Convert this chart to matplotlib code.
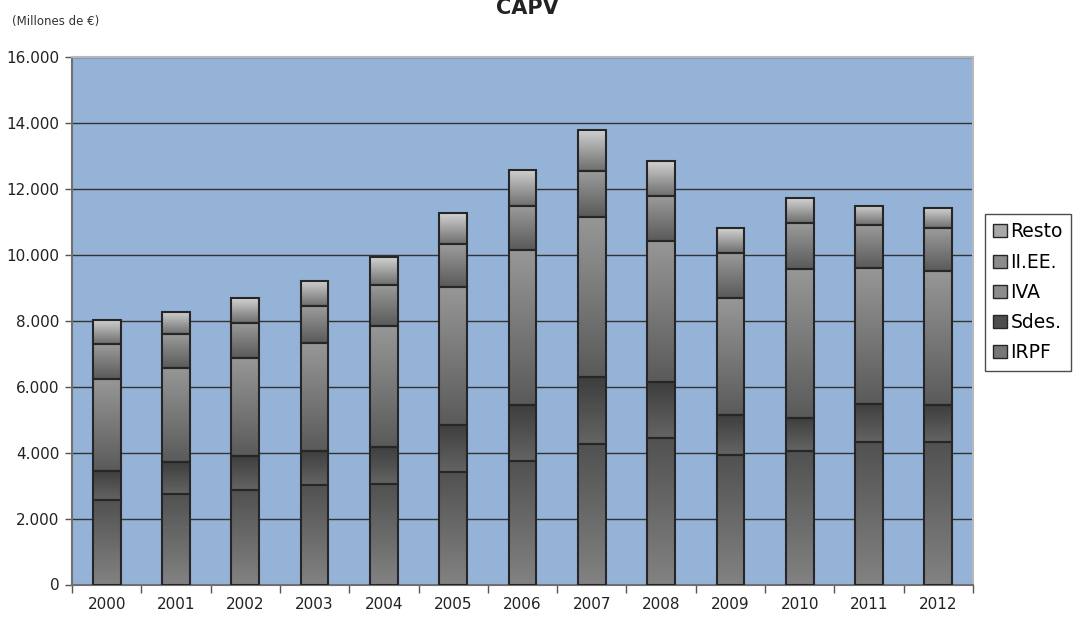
import matplotlib.pyplot as plt
import numpy as np
from matplotlib.colors import LinearSegmentedColormap
from matplotlib.patches import Patch

# Datos (millones de euros)
years = ['2000', '2001', '2002', '2003', '2004', '2005', '2006',
         '2007', '2008', '2009', '2010', '2011', '2012']
irpf = [2550, 2752, 2874, 3018, 3048, 3403, 3755, 4271, 4453, 3918, 4058, 4313, 4331]
sdes = [899, 959, 1038, 1040, 1132, 1435, 1689, 2032, 1698, 1232, 1001, 1162, 1113]
iva = [2782, 2863, 2945, 3257, 3660, 4194, 4692, 4843, 4277, 3530, 4510, 4115, 4074]
iiee = [1059, 1010, 1084, 1122, 1244, 1295, 1344, 1395, 1365, 1365, 1386, 1314, 1286]
resto = [747, 674, 749, 777, 840, 933, 1092, 1244, 1052, 758, 758, 585, 606]

series = [('IRPF', irpf), ('Sdes.', sdes), ('IVA', iva), ('II.EE.', iiee), ('Resto', resto)]
# degradado: color abajo -> color arriba
grads = {
    'IRPF': ('#828282', '#515151'),
    'Sdes.': ('#646464', '#3e3e3e'),
    'IVA': ('#5a5a5a', '#979797'),
    'II.EE.': ('#5a5a5a', '#9c9c9c'),
    'Resto': ('#6e6e6e', '#d2d2d2'),
}
legend_cols = {'Resto': '#a8a8a8', 'II.EE.': '#8c8c8c', 'IVA': '#8c8c8c',
               'Sdes.': '#4e4e4e', 'IRPF': '#777777'}

plt.rcParams['font.family'] = ['DejaVu Sans']

fig = plt.figure(figsize=(10.73, 6.17), dpi=100)
ax = fig.add_axes([72 / 1073, 1 - 584.5 / 617, 901 / 1073, 527.5 / 617])
ax.set_facecolor('#95b3d7')

x = np.arange(len(years))
bottom = np.zeros(len(years))
grad = np.linspace(0, 1, 256).reshape(-1, 1)
for name, vals in series:
    bars = ax.bar(x, vals, 0.4, bottom=bottom, facecolor='none',
                  edgecolor='#262626', linewidth=1.5, zorder=4)
    cmap = LinearSegmentedColormap.from_list(name, grads[name])
    for p in bars:
        x0, y0 = p.get_x(), p.get_y()
        ax.imshow(grad, extent=[x0, x0 + p.get_width(), y0, y0 + p.get_height()],
                  origin='lower', aspect='auto', cmap=cmap, zorder=3)
    bottom += np.array(vals)

ax.set_xlim(-0.5, len(years) - 0.5)
ax.set_ylim(0, 16000)
ax.set_yticks(np.arange(0, 16001, 2000))
ax.set_yticklabels([f'{v:,}'.replace(',', '.') for v in range(0, 16001, 2000)],
                   fontsize=11, color='#222222')
ax.set_xticks(x)
ax.set_xticklabels(years, fontsize=11, color='#222222')
ax.set_xticks(np.arange(-0.5, len(years)), minor=True)
ax.tick_params(axis='x', which='major', length=0, pad=9)
ax.tick_params(axis='x', which='minor', length=6, color='#555555', width=1)
ax.tick_params(axis='y', length=5, color='#555555', width=1, pad=4)

ax.grid(axis='y', color='#333333', linewidth=1, zorder=1)
ax.set_axisbelow(True)
for s in ['left', 'bottom']:
    ax.spines[s].set_color('#707070')
    ax.spines[s].set_linewidth(1.5)
for s in ['top', 'right']:
    ax.spines[s].set_color('#b8b8b8')
    ax.spines[s].set_linewidth(1.5)

fig.text(527 / 1073, 1 - 8 / 617, 'CAPV', ha='center', va='center',
         fontsize=15, fontweight='bold', color='#222222')
fig.text(12 / 1073, 1 - 21 / 617, '(Millones de €)', ha='left', va='center',
         fontsize=8.5, color='#333333')

handles = [Patch(facecolor=legend_cols[n], edgecolor='#262626', linewidth=1)
           for n, _ in series[::-1]]
leg = fig.legend(handles, [n for n, _ in series[::-1]], loc='upper left',
                 bbox_to_anchor=(985 / 1073, 1 - 214 / 617), fontsize=13.5,
                 frameon=True, fancybox=False, labelspacing=0.6,
                 handlelength=0.7, handleheight=0.7, handletextpad=0.2,
                 borderpad=0.45, borderaxespad=0)
leg.get_frame().set_edgecolor('#222222')
leg.get_frame().set_linewidth(1)

fig.savefig('out.png', dpi=100)
